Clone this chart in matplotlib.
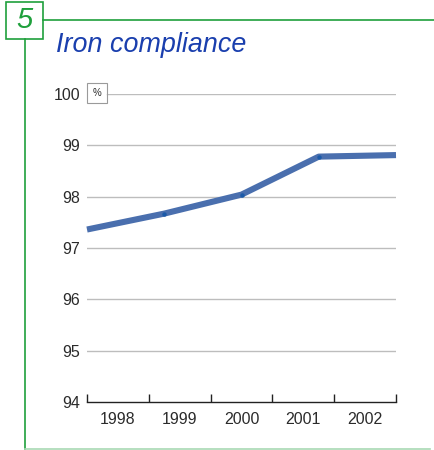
import matplotlib.pyplot as plt
from matplotlib.lines import Line2D
from matplotlib.patches import Rectangle

# * data
years = [1998, 1999, 2000, 2001, 2002]
x_pos = [1997.5, 1998.75, 2000.0, 2001.25, 2002.5]
compliance = [97.36, 97.67, 98.04, 98.78, 98.81]
y_ticks = [94, 95, 96, 97, 98, 99, 100]

# colours
green = '#1fa03c'
light_green = '#a9d9b4'
blue_title = '#1a3fae'
line_c = '#4a6fae'
dot_c = '#1b5aa8'
grid_c = '#bdbdbd'
text_c = '#2b2b2b'

plt.rcParams['font.family'] = ['Liberation Sans', 'DejaVu Sans']

W, H = 434, 450
fig = plt.figure(figsize=(W / 100, H / 100), dpi=100)

# axes placed in pixel terms
ax_l, ax_r, ax_b, ax_t = 87, 396, 402, 94
ax = fig.add_axes([ax_l / W, 1 - ax_b / H, (ax_r - ax_l) / W, (ax_b - ax_t) / H])

ax.set_xlim(x_pos[0], x_pos[-1])
ax.set_ylim(y_ticks[0], y_ticks[-1])

# gridlines (the 100 line starts after the % box)
for yv in y_ticks[1:]:
    start = 20 / (ax_r - ax_l) if yv == 100 else 0
    ax.axhline(yv, xmin=start, xmax=1, color=grid_c, lw=1.0, zorder=1)

ax.plot(x_pos, compliance, color=line_c, lw=4.4, solid_capstyle='butt',
        clip_on=False, zorder=3)
ax.plot(x_pos[1:-1], compliance[1:-1], 'o', color=dot_c, ms=3.2,
        mec='none', zorder=4)

# % box
tr = ax.get_yaxis_transform()
ax.add_patch(Rectangle((0, 100 - 9 / 51.4), 20 / (ax_r - ax_l), 20 / 51.4,
                       transform=tr, fill=False, ec='#9a9a9a', lw=0.8,
                       clip_on=False, zorder=5))
ax.text(10 / (ax_r - ax_l), 100 + 1 / 51.4, '%', transform=tr, ha='center',
        va='center', fontsize=7, color=text_c)

# axes spines
for s in ['top', 'right', 'left']:
    ax.spines[s].set_visible(False)
ax.spines['bottom'].set_linewidth(1.0)
ax.spines['bottom'].set_color('#222222')

# x ticks: boundaries as major, year labels as minor
ax.set_xticks([b - 0.5 for b in years] + [years[-1] + 0.5])
ax.set_xticklabels([])
ax.set_xticks(years, minor=True)
ax.set_xticklabels([str(y) for y in years], minor=True)
ax.tick_params(axis='x', which='major', direction='in', length=6, width=1.0,
               color='#222222')
ax.tick_params(axis='x', which='minor', length=0, pad=7, labelsize=11.5,
               labelcolor=text_c)

ax.set_yticks(y_ticks)
ax.set_yticklabels([str(v) for v in y_ticks])
ax.tick_params(axis='y', length=0, pad=5, labelsize=11.5, labelcolor=text_c)

# * green frame around the panel
fig.add_artist(Rectangle((6 / W, 1 - 39 / H), 37 / W, 37 / H,
                         transform=fig.transFigure, fill=False, ec=green,
                         lw=1.2))
fig.text(24.5 / W, 1 - 20.5 / H, '5', ha='center', va='center', fontsize=21,
         style='italic', color=green)
fig.add_artist(Line2D([43 / W, 1], [1 - 20 / H, 1 - 20 / H], color=green,
                      lw=1.2, transform=fig.transFigure))
fig.add_artist(Line2D([25 / W, 25 / W], [1 - 39 / H, 1 - 449 / H],
                      color=green, lw=1.2, transform=fig.transFigure))
fig.add_artist(Line2D([25 / W, 430 / W], [1 - 449 / H, 1 - 449 / H],
                      color=light_green, lw=1.2, transform=fig.transFigure))

fig.text(56 / W, 1 - 45 / H, 'Iron compliance', ha='left', va='center',
         fontsize=19.4, style='italic', color=blue_title)

plt.savefig('out.png', dpi=100)
